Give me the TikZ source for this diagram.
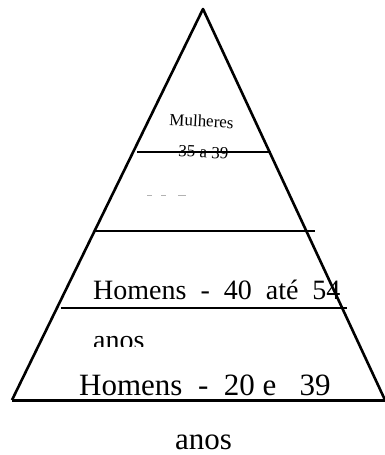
\documentclass[tikz,border=0pt]{standalone}
\usepackage{fontspec}
\setmainfont{Liberation Serif}
\tikzset{
	side/.style={black, line width=2.6pt, line join=round},
	layer/.style={black, line width=1.4pt},
	small/.style={font=\fontsize{17}{19}\selectfont, anchor=base west, inner sep=0pt, rotate=-3},
	mid/.style={font=\fontsize{28}{30}\selectfont, anchor=base west, inner sep=0pt},
	big/.style={font=\fontsize{31}{33}\selectfont, anchor=base west, inner sep=0pt}
}
\begin{document}
\begin{tikzpicture}[x=1pt, y=-1pt]
		\useasboundingbox (0,0) rectangle (385,455);
		\coordinate (apex) at (203,9);
		\coordinate (baseL) at (12,400);
		\coordinate (baseR) at (385,400);
		\draw[side] (baseL) -- (apex) -- (baseR);
		\draw[black, line width=3pt] (baseL) -- (baseR);
		\coordinate (cutA1) at (137,152);
		\coordinate (cutA2) at (271,152);
		\coordinate (cutB1) at (95,231);
		\coordinate (cutB2) at (315,231);
		\coordinate (cutC1) at (61,308);
		\coordinate (cutC2) at (347,308);
		\node[small] (mulheres) at (169,125) {Mulheres};
		\node[small] (idadeM) at (168,156) {-\ 35 a 39};
		\draw[layer] (cutA1) -- (cutA2);
		\draw[layer] (cutB1) -- (cutB2);
		\draw[layer] (cutC1) -- (cutC2);
		\draw[gray!60, line width=0.8pt] (147,195) -- (152,195) (161,195) -- (166,195) (178,195) -- (186,195);
		\node[mid] (homensA) at (93,299) {Homens\ \ -\ \ 40\ \ até\ \ 54};
		\begin{scope}
			\clip (60,320) rectangle (200,346);
			\node[mid] (anosA) at (93,349) {anos};
		\end{scope}
		\node[big] (homensB) at (79,395) {Homens\ \ -\ \ 20 e\ \ \ 39};
		\node[big] (anosB) at (175,449) {anos};
	\end{tikzpicture}
\end{document}
